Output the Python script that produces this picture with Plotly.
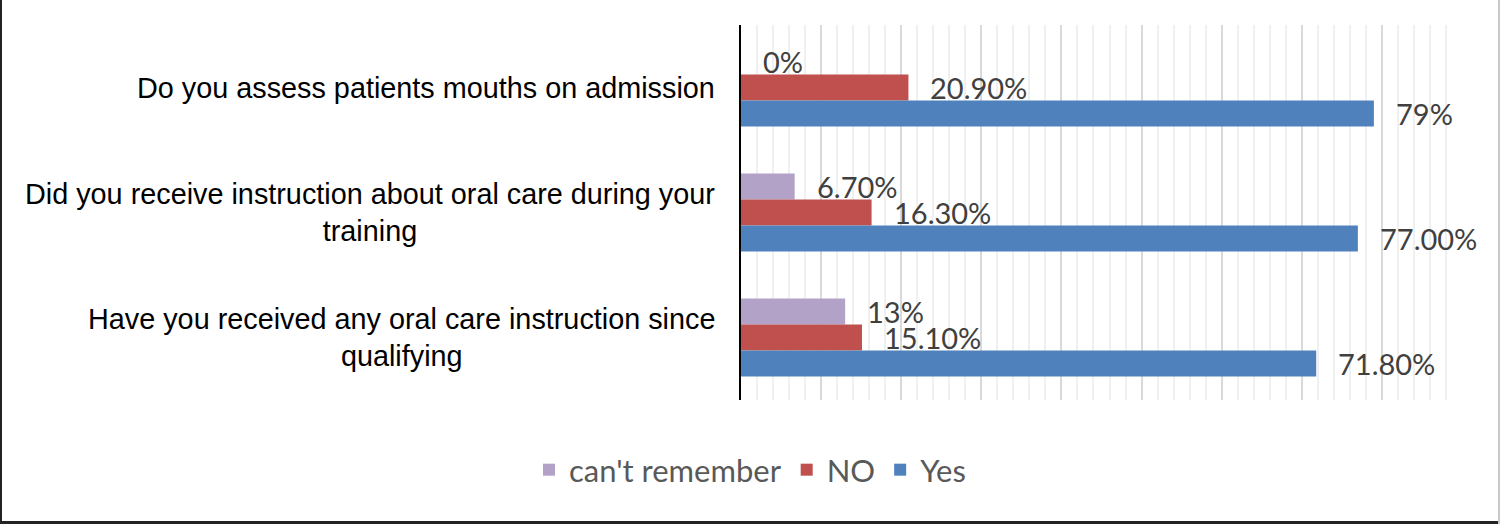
import plotly.graph_objects as go

categories = [
    "Do you assess patients mouths on admission",
    "Did you receive instruction about oral care during your<br>training",
    "Have you received any oral care instruction since<br>qualifying",
]
series_names = ["can't remember", "NO", "Yes"]
cant_remember = [0, 6.7, 13]
no_vals = [20.9, 16.3, 15.1]
yes_vals = [79, 77.0, 71.8]
cant_labels = ["0%", "6.70%", "13%"]
no_labels = ["20.90%", "16.30%", "15.10%"]
yes_labels = ["79%", "77.00%", "71.80%"]
colors = ["#b3a2c7", "#c0504d", "#4f81bd"]

W, H = 1500, 524
ML, MR, MT, MB = 741, 38, 25, 124
PW, PH = W - ML - MR, H - MT - MB

fig = go.Figure()
series = [(cant_remember, cant_labels), (no_vals, no_labels), (yes_vals, yes_labels)]
for name, (vals, labs), col in zip(series_names, series, colors):
    fig.add_trace(go.Bar(y=categories, x=vals, name=name, orientation="h",
                         marker=dict(color=col, line=dict(width=0)),
                         hoverinfo="skip"))

LABEL_FONT = dict(family="Lato, Open Sans, sans-serif", size=29, color="#404040")
shifts = [26, 0, -26]
for (vals, labs), ys in zip(series, shifts):
    for c, v, t in zip(categories, vals, labs):
        fig.add_annotation(x=v, y=c, xref="x", yref="y", text=t, showarrow=False,
                           xanchor="left", yanchor="middle", xshift=20, yshift=ys,
                           font=LABEL_FONT)

for c in categories:
    fig.add_annotation(x=(717 - ML) / PW, y=c, xref="paper", yref="y", text=c,
                       showarrow=False, xanchor="right", yanchor="middle", align="center",
                       font=dict(family="Liberation Sans, Arial, sans-serif", size=28.8, color="#000000"))

# outer border
def px_x(p):
    return (p - ML) / PW
def px_y(p):
    return 1 - (p - MT) / PH

fig.add_shape(type="line", xref="paper", yref="paper", x0=px_x(1), x1=px_x(1), y0=px_y(0), y1=px_y(524),
              line=dict(color="#222222", width=2))
fig.add_shape(type="line", xref="paper", yref="paper", x0=px_x(0), x1=px_x(1500), y0=px_y(522.5), y1=px_y(522.5),
              line=dict(color="#222222", width=3))
fig.add_shape(type="line", xref="paper", yref="paper", x0=px_x(1499), x1=px_x(1499), y0=px_y(0), y1=px_y(524),
              line=dict(color="#c8c8c8", width=2))

fig.update_layout(
    width=W, height=H,
    margin=dict(l=ML, r=MR, t=MT, b=MB, pad=0),
    paper_bgcolor="white", plot_bgcolor="white",
    barmode="group", bargap=0.376, bargroupgap=0,
    showlegend=True,
    legend=dict(orientation="h", xref="container", yref="container", x=0.5, y=0.103,
                xanchor="center", yanchor="middle",
                font=dict(family="Lato, Open Sans, sans-serif", size=31, color="#595959"),
                itemclick=False, itemdoubleclick=False),
    xaxis=dict(range=[0, 90], dtick=10, showticklabels=False, ticks="",
               showgrid=True, gridcolor="#d9d9d9", gridwidth=2, zeroline=False,
               minor=dict(dtick=2, showgrid=True, gridcolor="#f0f0f0", gridwidth=2),
               fixedrange=True),
    yaxis=dict(autorange="reversed", showticklabels=False, ticks="", showgrid=False,
               showline=True, linecolor="#000000", linewidth=2, zeroline=False,
               fixedrange=True),
)

fig.write_html("out.html")
